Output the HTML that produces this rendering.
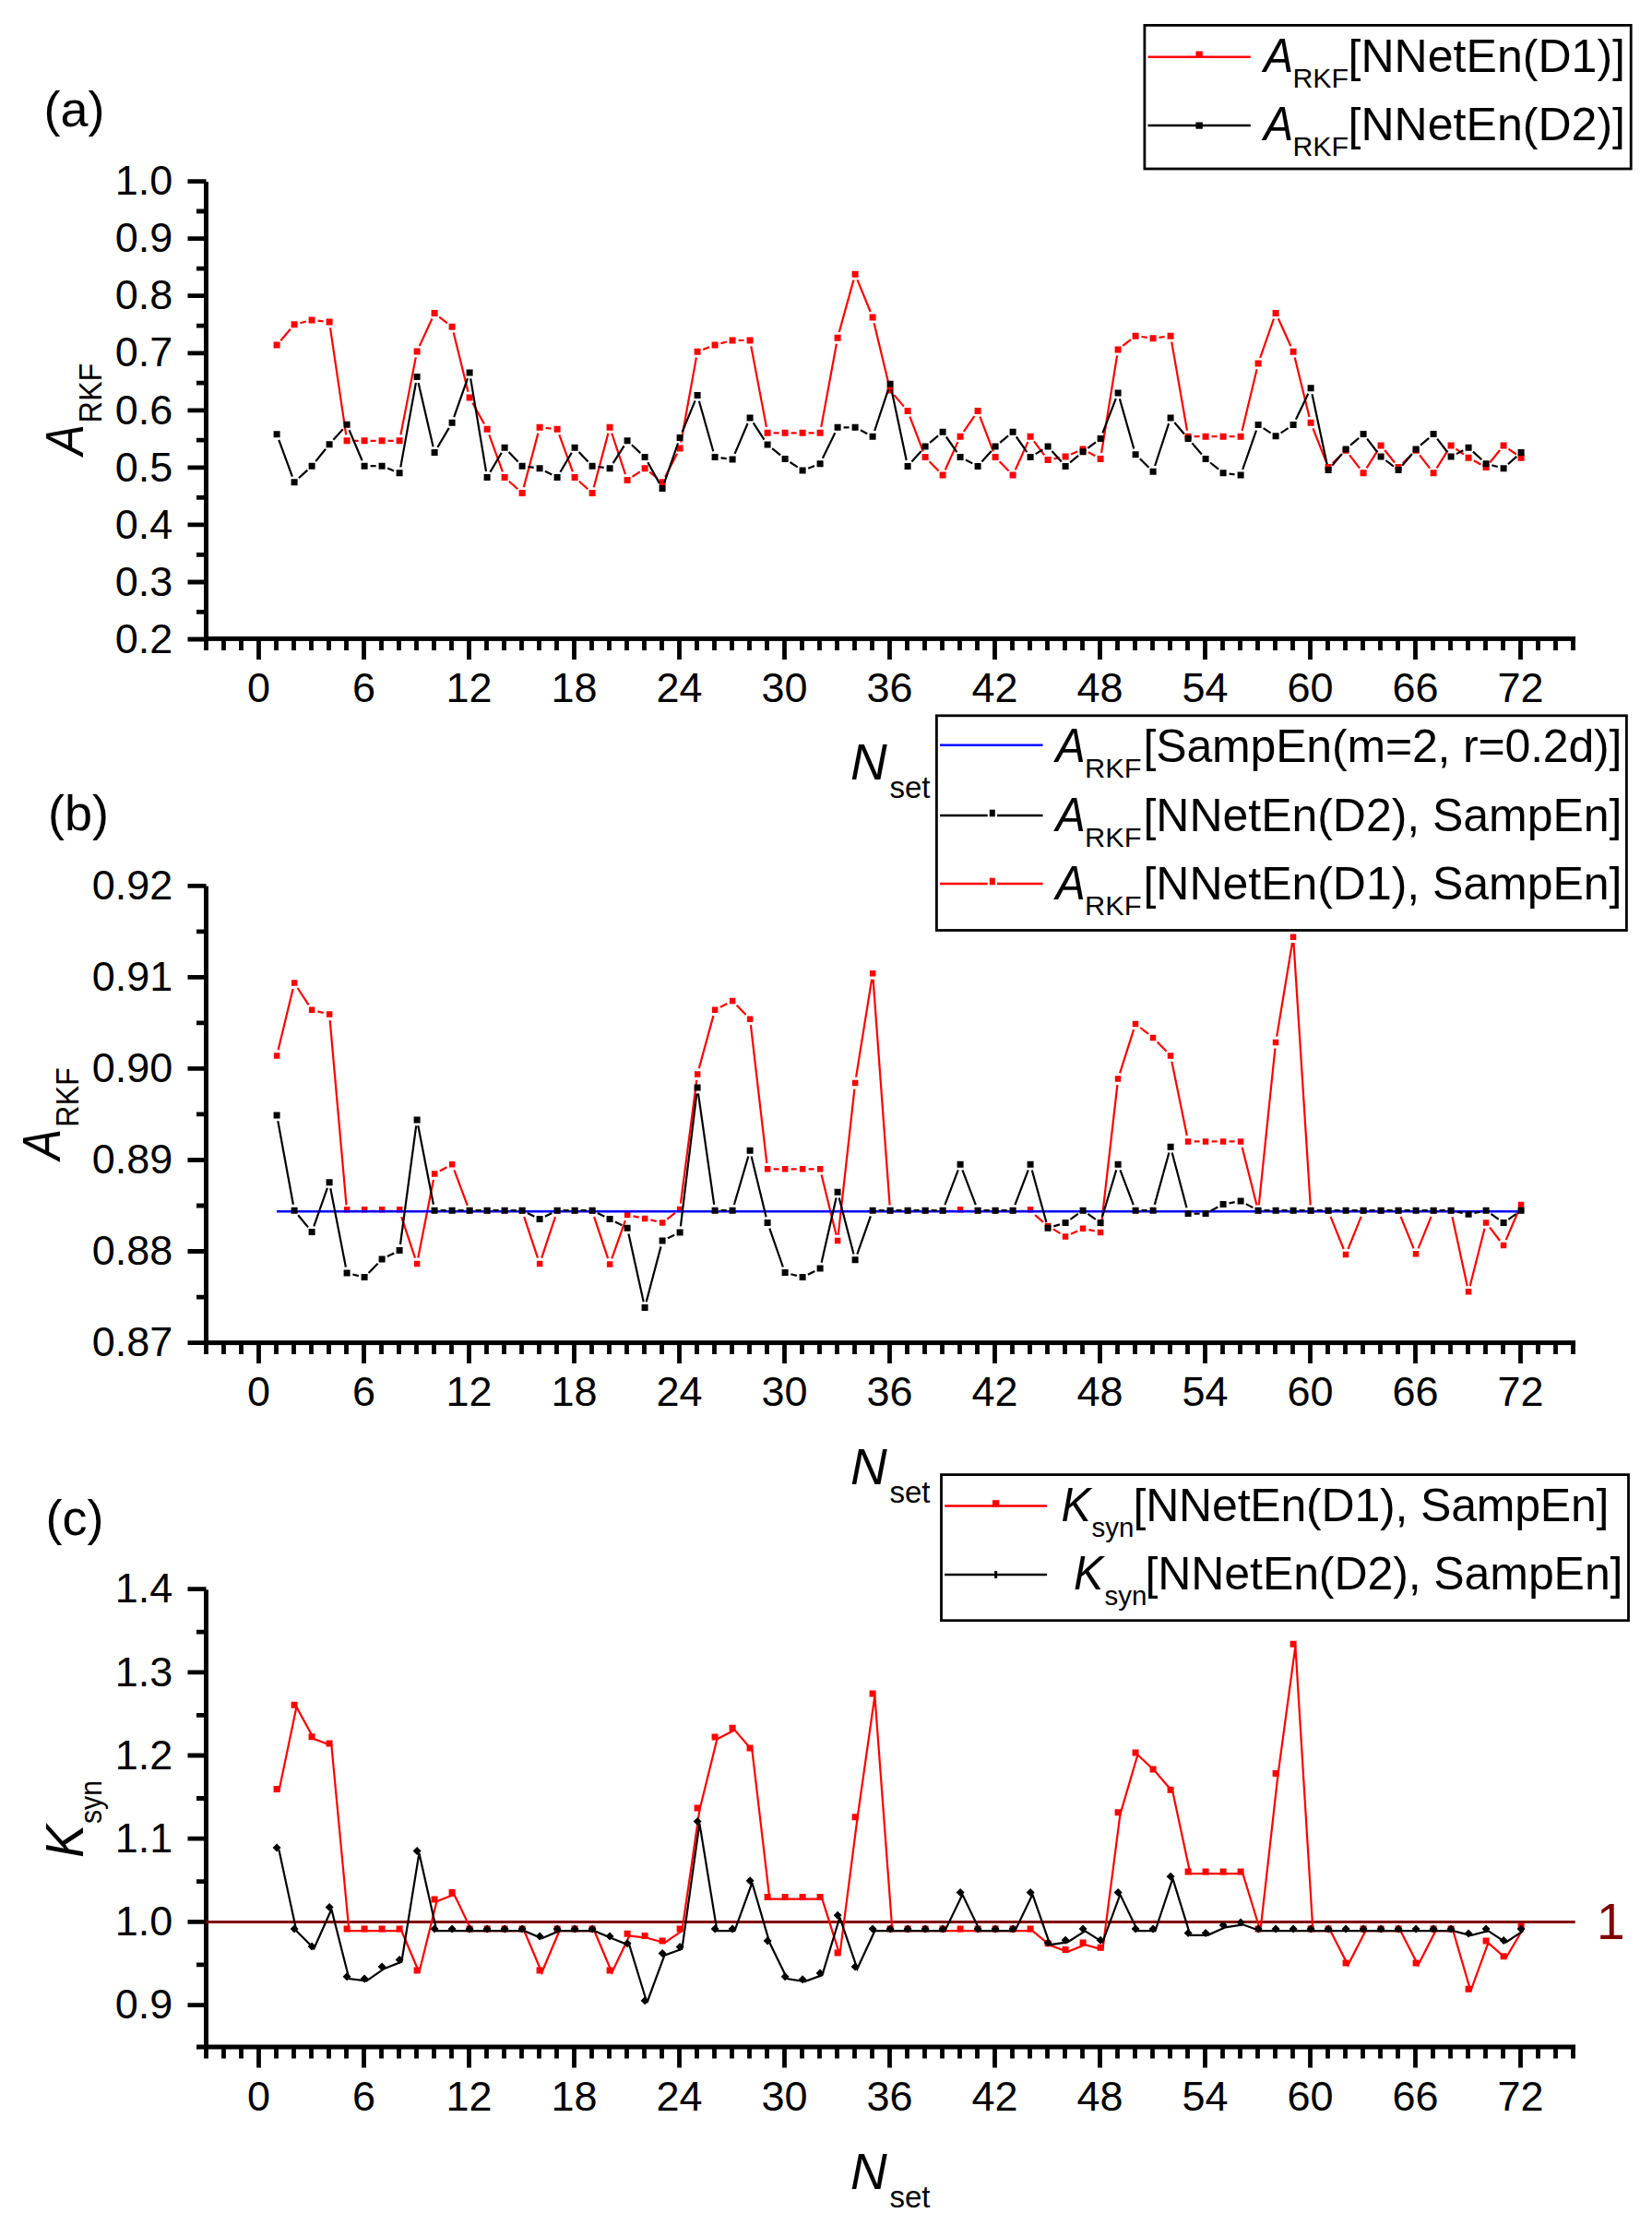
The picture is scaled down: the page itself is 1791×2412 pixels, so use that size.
<!DOCTYPE html>
<html><head><meta charset="utf-8"><title>Figure</title>
<style>html,body{margin:0;padding:0;background:#fff}svg{display:block}</style></head>
<body>
<svg width="1791" height="2412" viewBox="0 0 1791 2412" font-family='"Liberation Sans", sans-serif' fill="#000">
<rect width="1791" height="2412" fill="#fff"/>
<rect x="221.0" y="197.0" width="5" height="497.9" fill="#000"/>
<rect x="221.0" y="689.9" width="1487.0" height="5" fill="#000"/>
<path d="M203.5 196.6H223.5M203.5 258.6H223.5M203.5 320.7H223.5M203.5 382.8H223.5M203.5 444.8H223.5M203.5 506.9H223.5M203.5 568.9H223.5M203.5 631.0H223.5M203.5 693.0H223.5M213.0 229.0H223.5M213.0 291.1H223.5M213.0 353.1H223.5M213.0 415.2H223.5M213.0 477.2H223.5M213.0 539.3H223.5M213.0 601.3H223.5M213.0 663.4H223.5M223.5 692.4V704.9M242.5 692.4V704.9M261.5 692.4V704.9M280.5 692.4V714.9M299.5 692.4V704.9M318.5 692.4V704.9M337.5 692.4V704.9M356.5 692.4V704.9M375.5 692.4V704.9M394.5 692.4V714.9M413.5 692.4V704.9M432.5 692.4V704.9M451.5 692.4V704.9M470.5 692.4V704.9M489.5 692.4V704.9M508.5 692.4V714.9M527.5 692.4V704.9M546.5 692.4V704.9M565.5 692.4V704.9M584.5 692.4V704.9M603.5 692.4V704.9M622.5 692.4V714.9M641.5 692.4V704.9M660.5 692.4V704.9M679.5 692.4V704.9M698.5 692.4V704.9M717.5 692.4V704.9M736.5 692.4V714.9M755.5 692.4V704.9M774.5 692.4V704.9M793.5 692.4V704.9M812.5 692.4V704.9M831.5 692.4V704.9M850.5 692.4V714.9M869.5 692.4V704.9M888.5 692.4V704.9M907.5 692.4V704.9M926.5 692.4V704.9M945.5 692.4V704.9M964.5 692.4V714.9M983.5 692.4V704.9M1002.5 692.4V704.9M1021.5 692.4V704.9M1040.5 692.4V704.9M1059.5 692.4V704.9M1078.5 692.4V714.9M1097.5 692.4V704.9M1116.5 692.4V704.9M1135.5 692.4V704.9M1154.5 692.4V704.9M1173.5 692.4V704.9M1192.5 692.4V714.9M1211.5 692.4V704.9M1230.5 692.4V704.9M1249.5 692.4V704.9M1268.5 692.4V704.9M1287.5 692.4V704.9M1306.5 692.4V714.9M1325.5 692.4V704.9M1344.5 692.4V704.9M1363.5 692.4V704.9M1382.5 692.4V704.9M1401.5 692.4V704.9M1420.5 692.4V714.9M1439.5 692.4V704.9M1458.5 692.4V704.9M1477.5 692.4V704.9M1496.5 692.4V704.9M1515.5 692.4V704.9M1534.5 692.4V714.9M1553.5 692.4V704.9M1572.5 692.4V704.9M1591.5 692.4V704.9M1610.5 692.4V704.9M1629.5 692.4V704.9M1648.5 692.4V714.9M1667.5 692.4V704.9M1686.5 692.4V704.9M1705.5 692.4V704.9" stroke="#000" stroke-width="4.8" fill="none"/>
<text x="187.3" y="211.3" text-anchor="end" font-size="45">1.0</text>
<text x="187.3" y="273.3" text-anchor="end" font-size="45">0.9</text>
<text x="187.3" y="335.4" text-anchor="end" font-size="45">0.8</text>
<text x="187.3" y="397.4" text-anchor="end" font-size="45">0.7</text>
<text x="187.3" y="459.5" text-anchor="end" font-size="45">0.6</text>
<text x="187.3" y="521.6" text-anchor="end" font-size="45">0.5</text>
<text x="187.3" y="583.6" text-anchor="end" font-size="45">0.4</text>
<text x="187.3" y="645.7" text-anchor="end" font-size="45">0.3</text>
<text x="187.3" y="707.7" text-anchor="end" font-size="45">0.2</text>
<text x="280.5" y="761.0" text-anchor="middle" font-size="45">0</text>
<text x="394.5" y="761.0" text-anchor="middle" font-size="45">6</text>
<text x="508.5" y="761.0" text-anchor="middle" font-size="45">12</text>
<text x="622.5" y="761.0" text-anchor="middle" font-size="45">18</text>
<text x="736.5" y="761.0" text-anchor="middle" font-size="45">24</text>
<text x="850.5" y="761.0" text-anchor="middle" font-size="45">30</text>
<text x="964.5" y="761.0" text-anchor="middle" font-size="45">36</text>
<text x="1078.5" y="761.0" text-anchor="middle" font-size="45">42</text>
<text x="1192.5" y="761.0" text-anchor="middle" font-size="45">48</text>
<text x="1306.5" y="761.0" text-anchor="middle" font-size="45">54</text>
<text x="1420.5" y="761.0" text-anchor="middle" font-size="45">60</text>
<text x="1534.5" y="761.0" text-anchor="middle" font-size="45">66</text>
<text x="1648.5" y="761.0" text-anchor="middle" font-size="45">72</text>
<text x="922" y="845.3" font-size="55" font-style="italic">N</text>
<text x="964.5" y="865.3" font-size="33">set</text>
<path d="M304.3 369.2L314.9 356.7M325.4 350.2L331.8 348.5M344.6 347.6L350.6 348.3M358.0 355.4L375.2 471.4M382.6 477.8L388.6 477.8M401.6 477.8L407.6 477.8M420.6 477.8L426.6 477.8M434.4 471.4L450.8 387.4M454.8 375.1L468.4 345.5M476.2 343.6L485.0 350.3M491.7 360.6L507.5 424.8M512.3 436.8L524.9 459.5M530.3 471.3L544.9 511.3M551.9 521.8L561.3 530.2M567.8 528.3L583.4 469.6M591.6 463.9L597.6 464.6M606.3 471.3L620.9 511.3M627.9 521.8L637.3 530.2M643.8 528.3L659.4 469.6M663.2 469.5L678.0 514.2M685.5 516.8L693.7 511.3M704.2 511.7L713.0 518.7M721.1 516.9L734.1 491.7M738.3 479.5L754.9 387.6M762.2 378.9L769.0 376.2M781.4 372.3L787.8 370.6M800.6 369.0L806.6 369.0M814.3 375.4L830.9 462.9M838.6 469.3L844.6 469.3M857.6 469.3L863.6 469.3M876.6 469.3L882.6 469.3M890.3 462.9L906.9 372.7M909.8 360.0L925.4 303.6M929.5 303.3L943.7 338.0M947.6 350.3L963.6 416.8M969.3 428.1L979.9 440.6M986.4 451.7L1000.8 489.4M1007.6 500.2L1017.6 510.4M1024.8 509.2L1038.4 479.1M1044.8 467.8L1056.4 451.0M1062.4 451.7L1076.8 489.4M1083.6 500.2L1093.6 510.4M1100.8 509.2L1114.4 479.1M1121.0 478.4L1132.2 493.3M1142.5 497.4L1148.7 496.2M1161.1 492.6L1168.1 489.5M1179.8 490.1L1187.4 494.3M1194.1 491.0L1211.1 385.3M1217.2 374.9L1226.0 368.2M1237.5 365.0L1243.7 365.9M1256.5 365.9L1262.7 365.0M1270.2 370.6L1287.0 466.8M1294.6 473.2L1300.6 473.2M1313.6 473.2L1319.6 473.2M1332.6 473.2L1338.6 473.2M1346.6 466.9L1362.6 400.2M1366.2 387.8L1381.0 345.5M1385.8 345.3L1399.4 375.3M1403.7 387.5L1419.5 452.0M1423.5 464.3L1437.7 500.6M1444.8 502.1L1454.4 492.7M1463.1 493.3L1474.1 507.7M1481.6 507.3L1493.6 488.4M1501.2 488.0L1512.0 501.5M1520.8 502.1L1530.4 492.7M1539.1 493.3L1550.1 507.7M1557.6 507.3L1569.6 488.4M1578.4 486.6L1586.8 492.5M1597.8 499.3L1605.4 503.5M1615.2 501.5L1626.0 488.0M1635.4 486.6L1643.8 492.5" stroke="#ff0000" stroke-width="2.2" fill="none" stroke-linecap="butt" stroke-linejoin="miter" stroke-miterlimit="3"/>
<path d="M296.6 370.6h7v7h-7zM315.6 348.3h7v7h-7zM334.6 343.4h7v7h-7zM353.6 345.5h7v7h-7zM372.6 474.3h7v7h-7zM391.6 474.3h7v7h-7zM410.6 474.3h7v7h-7zM429.6 474.3h7v7h-7zM448.6 377.5h7v7h-7zM467.6 336.1h7v7h-7zM486.6 350.8h7v7h-7zM505.6 427.6h7v7h-7zM524.6 461.7h7v7h-7zM543.6 513.9h7v7h-7zM562.6 531.1h7v7h-7zM581.6 459.8h7v7h-7zM600.6 461.7h7v7h-7zM619.6 513.9h7v7h-7zM638.6 531.1h7v7h-7zM657.6 459.8h7v7h-7zM676.6 516.9h7v7h-7zM695.6 504.2h7v7h-7zM714.6 519.2h7v7h-7zM733.6 482.4h7v7h-7zM752.6 377.7h7v7h-7zM771.6 370.4h7v7h-7zM790.6 365.5h7v7h-7zM809.6 365.5h7v7h-7zM828.6 465.8h7v7h-7zM847.6 465.8h7v7h-7zM866.6 465.8h7v7h-7zM885.6 465.8h7v7h-7zM904.6 362.8h7v7h-7zM923.6 293.8h7v7h-7zM942.6 340.5h7v7h-7zM961.6 419.6h7v7h-7zM980.6 442.1h7v7h-7zM999.6 492.0h7v7h-7zM1018.6 511.6h7v7h-7zM1037.6 469.7h7v7h-7zM1056.6 442.1h7v7h-7zM1075.6 492.0h7v7h-7zM1094.6 511.6h7v7h-7zM1113.6 469.7h7v7h-7zM1132.6 495.0h7v7h-7zM1151.6 491.6h7v7h-7zM1170.6 483.5h7v7h-7zM1189.6 493.9h7v7h-7zM1208.6 375.4h7v7h-7zM1227.6 360.7h7v7h-7zM1246.6 363.2h7v7h-7zM1265.6 360.7h7v7h-7zM1284.6 469.7h7v7h-7zM1303.6 469.7h7v7h-7zM1322.6 469.7h7v7h-7zM1341.6 469.7h7v7h-7zM1360.6 390.4h7v7h-7zM1379.6 335.9h7v7h-7zM1398.6 377.7h7v7h-7zM1417.6 454.8h7v7h-7zM1436.6 503.1h7v7h-7zM1455.6 484.7h7v7h-7zM1474.6 509.3h7v7h-7zM1493.6 479.4h7v7h-7zM1512.6 503.1h7v7h-7zM1531.6 484.7h7v7h-7zM1550.6 509.3h7v7h-7zM1569.6 479.4h7v7h-7zM1588.6 492.7h7v7h-7zM1607.6 503.1h7v7h-7zM1626.6 479.4h7v7h-7zM1645.6 492.7h7v7h-7z" fill="#ff0000"/>
<path d="M302.3 476.8L316.9 516.6M323.9 518.3L333.3 509.6M342.2 500.1L353.0 486.8M361.4 476.8L371.8 465.2M378.6 466.3L392.6 499.2M401.6 505.2L407.6 505.2M420.1 507.6L427.1 510.4M434.3 506.4L450.9 415.0M453.6 414.9L469.6 484.2M474.4 484.9L486.8 463.9M492.2 452.2L507.0 410.1M510.2 410.4L527.0 511.0M531.4 511.8L543.8 490.8M551.6 489.9L561.6 500.5M572.5 506.0L578.7 506.9M590.9 510.7L598.3 514.4M607.4 511.8L619.8 490.8M627.6 489.9L637.6 500.5M648.5 506.0L654.7 506.9M664.6 502.2L676.6 483.3M684.9 482.2L694.3 491.1M702.3 501.2L714.9 523.9M720.2 523.5L735.0 480.5M739.6 468.4L753.6 434.4M757.9 434.7L773.3 489.2M781.5 496.3L787.7 497.1M796.6 491.9L810.6 459.0M816.7 458.4L828.5 476.6M837.1 486.1L846.1 493.3M856.5 501.0L864.7 506.4M876.2 507.7L883.0 505.0M891.9 496.8L905.3 469.2M914.6 463.3L920.6 463.3M932.9 466.3L940.3 470.2M948.2 467.0L963.0 422.4M966.5 422.6L982.7 499.0M988.4 500.5L998.8 488.9M1008.1 479.8L1017.1 472.4M1025.8 473.5L1037.4 490.2M1046.9 498.5L1054.3 502.4M1064.4 500.5L1074.8 488.9M1084.1 479.8L1093.1 472.4M1101.8 473.5L1113.4 490.2M1122.7 492.1L1130.5 487.4M1140.4 488.9L1150.8 500.5M1160.1 501.3L1169.1 493.9M1179.3 485.9L1187.9 479.4M1195.4 469.4L1209.8 432.2M1213.9 432.4L1229.3 486.5M1235.8 497.3L1245.4 506.7M1252.1 505.0L1267.1 459.2M1273.3 458.0L1283.9 470.5M1292.4 480.4L1302.8 492.5M1312.1 501.5L1321.1 508.7M1332.6 513.6L1338.6 514.3M1347.2 509.0L1362.0 466.7M1369.6 464.1L1377.6 469.3M1388.6 469.3L1396.6 464.1M1404.9 454.7L1418.3 426.7M1422.5 427.2L1438.7 503.2M1444.3 504.6L1454.9 492.0M1464.0 482.7L1473.2 474.8M1482.1 475.6L1493.1 490.0M1502.3 499.0L1510.9 505.7M1520.3 504.6L1530.9 492.0M1540.0 482.7L1549.2 474.8M1558.1 475.6L1569.1 490.0M1578.9 492.1L1586.3 488.2M1596.9 489.6L1606.3 498.3M1617.4 504.4L1623.8 506.0M1634.9 503.3L1644.3 494.9" stroke="#000" stroke-width="2.2" fill="none" stroke-linecap="butt" stroke-linejoin="miter" stroke-miterlimit="3"/>
<path d="M296.6 467.2h7v7h-7zM315.6 519.2h7v7h-7zM334.6 501.7h7v7h-7zM353.6 478.2h7v7h-7zM372.6 456.8h7v7h-7zM391.6 501.7h7v7h-7zM410.6 501.7h7v7h-7zM429.6 509.3h7v7h-7zM448.6 405.1h7v7h-7zM467.6 487.0h7v7h-7zM486.6 454.8h7v7h-7zM505.6 400.5h7v7h-7zM524.6 513.9h7v7h-7zM543.6 481.7h7v7h-7zM562.6 501.7h7v7h-7zM581.6 504.2h7v7h-7zM600.6 513.9h7v7h-7zM619.6 481.7h7v7h-7zM638.6 501.7h7v7h-7zM657.6 504.2h7v7h-7zM676.6 474.3h7v7h-7zM695.6 492.0h7v7h-7zM714.6 526.1h7v7h-7zM733.6 470.9h7v7h-7zM752.6 424.9h7v7h-7zM771.6 492.0h7v7h-7zM790.6 494.4h7v7h-7zM809.6 449.5h7v7h-7zM828.6 478.5h7v7h-7zM847.6 493.9h7v7h-7zM866.6 506.5h7v7h-7zM885.6 499.2h7v7h-7zM904.6 459.8h7v7h-7zM923.6 459.8h7v7h-7zM942.6 469.7h7v7h-7zM961.6 412.7h7v7h-7zM980.6 501.9h7v7h-7zM999.6 480.5h7v7h-7zM1018.6 464.7h7v7h-7zM1037.6 492.0h7v7h-7zM1056.6 501.9h7v7h-7zM1075.6 480.5h7v7h-7zM1094.6 464.7h7v7h-7zM1113.6 492.0h7v7h-7zM1132.6 480.5h7v7h-7zM1151.6 501.9h7v7h-7zM1170.6 486.3h7v7h-7zM1189.6 472.0h7v7h-7zM1208.6 422.6h7v7h-7zM1227.6 489.3h7v7h-7zM1246.6 507.7h7v7h-7zM1265.6 449.5h7v7h-7zM1284.6 472.0h7v7h-7zM1303.6 493.9h7v7h-7zM1322.6 509.3h7v7h-7zM1341.6 511.6h7v7h-7zM1360.6 457.1h7v7h-7zM1379.6 469.3h7v7h-7zM1398.6 457.1h7v7h-7zM1417.6 417.3h7v7h-7zM1436.6 506.1h7v7h-7zM1455.6 483.5h7v7h-7zM1474.6 467.0h7v7h-7zM1493.6 491.6h7v7h-7zM1512.6 506.1h7v7h-7zM1531.6 483.5h7v7h-7zM1550.6 467.0h7v7h-7zM1569.6 491.6h7v7h-7zM1588.6 481.7h7v7h-7zM1607.6 499.2h7v7h-7zM1626.6 504.2h7v7h-7zM1645.6 487.0h7v7h-7z" fill="#000"/>
<text x="47.5" y="137" font-size="54">(a)</text>
<text transform="translate(90,493.5) rotate(-90) scale(0.88,1)" font-size="57" font-style="italic">A</text>
<text transform="translate(109.6,458.5) rotate(-90) scale(0.9,1)" font-size="36">RKF</text>
<rect x="221.0" y="960.6" width="5" height="497.5" fill="#000"/>
<rect x="221.0" y="1453.1" width="1487.0" height="5" fill="#000"/>
<path d="M203.5 960.3H223.5M203.5 1059.4H223.5M203.5 1158.4H223.5M203.5 1257.5H223.5M203.5 1356.5H223.5M203.5 1455.6H223.5M213.0 1009.8H223.5M213.0 1108.9H223.5M213.0 1207.9H223.5M213.0 1307.0H223.5M213.0 1406.1H223.5M223.5 1455.6V1468.1M242.5 1455.6V1468.1M261.5 1455.6V1468.1M280.5 1455.6V1478.1M299.5 1455.6V1468.1M318.5 1455.6V1468.1M337.5 1455.6V1468.1M356.5 1455.6V1468.1M375.5 1455.6V1468.1M394.5 1455.6V1478.1M413.5 1455.6V1468.1M432.5 1455.6V1468.1M451.5 1455.6V1468.1M470.5 1455.6V1468.1M489.5 1455.6V1468.1M508.5 1455.6V1478.1M527.5 1455.6V1468.1M546.5 1455.6V1468.1M565.5 1455.6V1468.1M584.5 1455.6V1468.1M603.5 1455.6V1468.1M622.5 1455.6V1478.1M641.5 1455.6V1468.1M660.5 1455.6V1468.1M679.5 1455.6V1468.1M698.5 1455.6V1468.1M717.5 1455.6V1468.1M736.5 1455.6V1478.1M755.5 1455.6V1468.1M774.5 1455.6V1468.1M793.5 1455.6V1468.1M812.5 1455.6V1468.1M831.5 1455.6V1468.1M850.5 1455.6V1478.1M869.5 1455.6V1468.1M888.5 1455.6V1468.1M907.5 1455.6V1468.1M926.5 1455.6V1468.1M945.5 1455.6V1468.1M964.5 1455.6V1478.1M983.5 1455.6V1468.1M1002.5 1455.6V1468.1M1021.5 1455.6V1468.1M1040.5 1455.6V1468.1M1059.5 1455.6V1468.1M1078.5 1455.6V1478.1M1097.5 1455.6V1468.1M1116.5 1455.6V1468.1M1135.5 1455.6V1468.1M1154.5 1455.6V1468.1M1173.5 1455.6V1468.1M1192.5 1455.6V1478.1M1211.5 1455.6V1468.1M1230.5 1455.6V1468.1M1249.5 1455.6V1468.1M1268.5 1455.6V1468.1M1287.5 1455.6V1468.1M1306.5 1455.6V1478.1M1325.5 1455.6V1468.1M1344.5 1455.6V1468.1M1363.5 1455.6V1468.1M1382.5 1455.6V1468.1M1401.5 1455.6V1468.1M1420.5 1455.6V1478.1M1439.5 1455.6V1468.1M1458.5 1455.6V1468.1M1477.5 1455.6V1468.1M1496.5 1455.6V1468.1M1515.5 1455.6V1468.1M1534.5 1455.6V1478.1M1553.5 1455.6V1468.1M1572.5 1455.6V1468.1M1591.5 1455.6V1468.1M1610.5 1455.6V1468.1M1629.5 1455.6V1468.1M1648.5 1455.6V1478.1M1667.5 1455.6V1468.1M1686.5 1455.6V1468.1M1705.5 1455.6V1468.1" stroke="#000" stroke-width="4.8" fill="none"/>
<text x="187.3" y="975.0" text-anchor="end" font-size="45">0.92</text>
<text x="187.3" y="1074.1" text-anchor="end" font-size="45">0.91</text>
<text x="187.3" y="1173.1" text-anchor="end" font-size="45">0.90</text>
<text x="187.3" y="1272.2" text-anchor="end" font-size="45">0.89</text>
<text x="187.3" y="1371.2" text-anchor="end" font-size="45">0.88</text>
<text x="187.3" y="1470.3" text-anchor="end" font-size="45">0.87</text>
<text x="280.5" y="1524.2" text-anchor="middle" font-size="45">0</text>
<text x="394.5" y="1524.2" text-anchor="middle" font-size="45">6</text>
<text x="508.5" y="1524.2" text-anchor="middle" font-size="45">12</text>
<text x="622.5" y="1524.2" text-anchor="middle" font-size="45">18</text>
<text x="736.5" y="1524.2" text-anchor="middle" font-size="45">24</text>
<text x="850.5" y="1524.2" text-anchor="middle" font-size="45">30</text>
<text x="964.5" y="1524.2" text-anchor="middle" font-size="45">36</text>
<text x="1078.5" y="1524.2" text-anchor="middle" font-size="45">42</text>
<text x="1192.5" y="1524.2" text-anchor="middle" font-size="45">48</text>
<text x="1306.5" y="1524.2" text-anchor="middle" font-size="45">54</text>
<text x="1420.5" y="1524.2" text-anchor="middle" font-size="45">60</text>
<text x="1534.5" y="1524.2" text-anchor="middle" font-size="45">66</text>
<text x="1648.5" y="1524.2" text-anchor="middle" font-size="45">72</text>
<text x="922" y="1608.5" font-size="55" font-style="italic">N</text>
<text x="964.5" y="1628.5" font-size="33">set</text>
<path d="M301.6 1138.2L317.6 1071.9M322.6 1071.0L334.6 1089.4M344.4 1096.4L350.8 1098.0M357.7 1106.1L375.5 1306.4M382.6 1312.9L388.6 1312.9M401.6 1312.9L407.6 1312.9M420.6 1312.9L426.6 1312.9M435.2 1319.1L450.0 1363.7M453.3 1363.5L469.9 1279.0M476.8 1269.5L484.4 1265.3M492.4 1268.3L506.8 1306.8M515.6 1312.9L521.6 1312.9M534.6 1312.9L540.6 1312.9M553.6 1312.9L559.6 1312.9M568.2 1319.1L583.0 1363.7M587.2 1363.7L602.0 1319.1M610.6 1312.9L616.6 1312.9M629.6 1312.9L635.6 1312.9M644.1 1319.1L659.1 1364.2M663.3 1364.3L677.9 1323.1M686.5 1318.3L692.7 1319.6M705.4 1322.4L711.8 1324.0M723.3 1321.6L731.9 1314.9M737.9 1304.6L755.3 1170.9M757.8 1158.2L773.4 1101.1M780.9 1091.8L788.3 1088.1M798.6 1089.8L808.6 1100.0M813.9 1111.2L831.3 1260.8M838.6 1267.3L844.6 1267.3M857.6 1267.3L863.6 1267.3M876.6 1267.3L882.6 1267.3M890.6 1273.6L906.6 1338.8M908.8 1338.6L926.4 1180.6M928.1 1167.7L945.1 1061.6M946.6 1061.7L964.6 1306.4M971.6 1312.9L977.6 1312.9M990.6 1312.9L996.6 1312.9M1009.6 1312.9L1015.6 1312.9M1028.6 1312.9L1034.6 1312.9M1047.6 1312.9L1053.6 1312.9M1066.6 1312.9L1072.6 1312.9M1085.6 1312.9L1091.6 1312.9M1104.6 1312.9L1110.6 1312.9M1122.1 1317.1L1131.1 1324.8M1141.7 1332.4L1149.5 1337.1M1161.0 1337.8L1168.2 1334.4M1180.4 1333.1L1186.8 1334.5M1193.8 1329.4L1211.4 1176.0M1214.1 1163.3L1229.1 1116.2M1236.2 1114.0L1245.0 1120.9M1254.6 1129.6L1264.6 1139.8M1270.4 1150.9L1286.8 1231.0M1294.6 1237.4L1300.6 1237.4M1313.6 1237.4L1319.6 1237.4M1332.6 1237.4L1338.6 1237.4M1346.7 1243.7L1362.5 1306.6M1364.8 1306.4L1382.4 1136.5M1384.2 1123.6L1401.0 1022.0M1402.5 1022.1L1420.7 1306.4M1427.6 1312.9L1433.6 1312.9M1442.5 1318.9L1456.7 1354.0M1461.5 1354.0L1475.7 1318.9M1484.6 1312.9L1490.6 1312.9M1503.6 1312.9L1509.6 1312.9M1518.6 1318.9L1532.6 1353.3M1537.6 1353.3L1551.6 1318.9M1560.6 1312.9L1566.6 1312.9M1574.5 1319.3L1590.7 1393.9M1593.7 1394.0L1609.5 1331.8M1615.1 1330.6L1626.1 1345.0M1632.7 1344.1L1646.5 1312.0" stroke="#ff0000" stroke-width="2.2" fill="none" stroke-linecap="butt" stroke-linejoin="miter" stroke-miterlimit="3"/>
<path d="M296.9 1141.2h6.5v6.5h-6.5zM315.9 1062.3h6.5v6.5h-6.5zM334.9 1091.5h6.5v6.5h-6.5zM353.9 1096.3h6.5v6.5h-6.5zM372.9 1308.0h6.5v6.5h-6.5zM391.9 1308.0h6.5v6.5h-6.5zM410.9 1308.0h6.5v6.5h-6.5zM429.9 1308.0h6.5v6.5h-6.5zM448.9 1366.7h6.5v6.5h-6.5zM467.9 1269.3h6.5v6.5h-6.5zM486.9 1259.0h6.5v6.5h-6.5zM505.9 1309.0h6.5v6.5h-6.5zM524.9 1309.0h6.5v6.5h-6.5zM543.9 1309.0h6.5v6.5h-6.5zM562.9 1309.0h6.5v6.5h-6.5zM581.9 1366.7h6.5v6.5h-6.5zM600.9 1309.0h6.5v6.5h-6.5zM619.9 1309.0h6.5v6.5h-6.5zM638.9 1309.0h6.5v6.5h-6.5zM657.9 1367.2h6.5v6.5h-6.5zM676.9 1313.8h6.5v6.5h-6.5zM695.9 1317.7h6.5v6.5h-6.5zM714.9 1322.2h6.5v6.5h-6.5zM733.9 1307.8h6.5v6.5h-6.5zM752.9 1161.2h6.5v6.5h-6.5zM771.9 1091.5h6.5v6.5h-6.5zM790.9 1081.8h6.5v6.5h-6.5zM809.9 1101.5h6.5v6.5h-6.5zM828.9 1264.0h6.5v6.5h-6.5zM847.9 1264.0h6.5v6.5h-6.5zM866.9 1264.0h6.5v6.5h-6.5zM885.9 1264.0h6.5v6.5h-6.5zM904.9 1341.8h6.5v6.5h-6.5zM923.9 1170.8h6.5v6.5h-6.5zM942.9 1052.0h6.5v6.5h-6.5zM961.9 1309.0h6.5v6.5h-6.5zM980.9 1309.0h6.5v6.5h-6.5zM999.9 1309.0h6.5v6.5h-6.5zM1018.9 1309.0h6.5v6.5h-6.5zM1037.8 1308.0h6.5v6.5h-6.5zM1056.8 1309.0h6.5v6.5h-6.5zM1075.8 1309.0h6.5v6.5h-6.5zM1094.8 1309.0h6.5v6.5h-6.5zM1113.8 1308.0h6.5v6.5h-6.5zM1132.8 1325.8h6.5v6.5h-6.5zM1151.8 1337.2h6.5v6.5h-6.5zM1170.8 1328.5h6.5v6.5h-6.5zM1189.8 1332.7h6.5v6.5h-6.5zM1208.8 1166.2h6.5v6.5h-6.5zM1227.8 1106.8h6.5v6.5h-6.5zM1246.8 1121.7h6.5v6.5h-6.5zM1265.8 1141.2h6.5v6.5h-6.5zM1284.8 1234.2h6.5v6.5h-6.5zM1303.8 1234.2h6.5v6.5h-6.5zM1322.8 1234.2h6.5v6.5h-6.5zM1341.8 1234.2h6.5v6.5h-6.5zM1360.8 1309.0h6.5v6.5h-6.5zM1379.8 1126.8h6.5v6.5h-6.5zM1398.8 1012.4h6.5v6.5h-6.5zM1417.8 1309.0h6.5v6.5h-6.5zM1436.8 1309.0h6.5v6.5h-6.5zM1455.8 1356.8h6.5v6.5h-6.5zM1474.8 1309.0h6.5v6.5h-6.5zM1493.8 1309.0h6.5v6.5h-6.5zM1512.8 1309.0h6.5v6.5h-6.5zM1531.8 1356.0h6.5v6.5h-6.5zM1550.8 1309.0h6.5v6.5h-6.5zM1569.8 1309.0h6.5v6.5h-6.5zM1588.8 1397.0h6.5v6.5h-6.5zM1607.8 1322.2h6.5v6.5h-6.5zM1626.8 1346.8h6.5v6.5h-6.5zM1645.8 1302.8h6.5v6.5h-6.5z" fill="#ff0000"/>
<path d="M300.1 1313.3H1649.1" stroke="#0000ff" stroke-width="2.6"/>
<path d="M301.3 1215.3L317.9 1305.8M323.2 1317.2L334.0 1330.4M340.3 1329.3L354.9 1287.9M358.3 1288.2L374.9 1373.6M382.4 1381.5L388.8 1383.1M399.6 1379.9L409.6 1369.8M419.9 1362.1L427.3 1358.4M434.0 1349.0L451.2 1220.3M453.3 1220.3L469.9 1305.8M477.6 1312.2L483.6 1312.2M496.6 1312.2L502.6 1312.2M515.6 1312.2L521.6 1312.2M534.6 1312.2L540.6 1312.2M553.6 1312.2L559.6 1312.2M571.9 1315.1L579.3 1318.7M590.9 1318.7L598.3 1315.1M610.6 1312.2L616.6 1312.2M629.6 1312.2L635.6 1312.2M647.9 1315.1L655.3 1318.7M666.9 1324.6L674.3 1328.3M681.5 1337.6L697.7 1411.2M700.7 1411.2L716.5 1351.4M724.0 1342.3L731.2 1338.7M737.9 1329.4L755.3 1185.5M757.0 1185.4L774.2 1305.8M781.6 1312.2L787.6 1312.2M795.9 1306.0L811.3 1253.5M814.6 1253.6L830.6 1319.2M834.3 1331.6L848.9 1373.5M857.4 1381.3L863.8 1382.9M875.9 1381.7L883.3 1377.9M890.6 1368.7L906.6 1298.5M909.7 1298.5L925.5 1359.5M929.3 1359.7L943.9 1318.3M952.6 1312.2L958.6 1312.2M971.6 1312.2L977.6 1312.2M990.6 1312.2L996.6 1312.2M1009.6 1312.2L1015.6 1312.2M1024.4 1306.1L1038.8 1268.3M1043.4 1268.3L1057.8 1306.1M1066.6 1312.2L1072.6 1312.2M1085.6 1312.2L1091.6 1312.2M1100.4 1306.1L1114.8 1268.3M1118.8 1268.5L1134.4 1325.0M1142.3 1329.4L1148.9 1327.4M1160.4 1321.8L1168.8 1315.9M1179.4 1315.9L1187.8 1321.8M1195.0 1319.3L1210.2 1268.4M1214.4 1268.3L1228.8 1306.1M1237.6 1312.2L1243.6 1312.2M1251.8 1305.9L1267.4 1249.5M1270.7 1249.5L1286.5 1309.3M1294.6 1315.6L1300.6 1315.6M1312.8 1312.5L1320.4 1308.6M1332.5 1304.3L1338.7 1303.2M1350.8 1305.1L1358.4 1309.1M1370.6 1312.2L1376.6 1312.2M1389.6 1312.2L1395.6 1312.2M1408.6 1312.2L1414.6 1312.2M1427.6 1312.2L1433.6 1312.2M1446.6 1312.2L1452.6 1312.2M1465.6 1312.2L1471.6 1312.2M1484.6 1312.2L1490.6 1312.2M1503.6 1312.2L1509.6 1312.2M1522.6 1312.2L1528.6 1312.2M1541.6 1312.2L1547.6 1312.2M1560.6 1312.2L1566.6 1312.2M1579.5 1313.6L1585.7 1314.9M1598.5 1314.9L1604.7 1313.6M1616.4 1315.9L1624.8 1321.8M1635.4 1321.8L1643.8 1315.9" stroke="#000" stroke-width="2.2" fill="none" stroke-linecap="butt" stroke-linejoin="miter" stroke-miterlimit="3"/>
<path d="M296.6 1205.4h7v7h-7zM315.6 1308.7h7v7h-7zM334.6 1331.9h7v7h-7zM353.6 1278.3h7v7h-7zM372.6 1376.5h7v7h-7zM391.6 1381.1h7v7h-7zM410.6 1361.6h7v7h-7zM429.6 1351.9h7v7h-7zM448.6 1210.4h7v7h-7zM467.6 1308.7h7v7h-7zM486.6 1308.7h7v7h-7zM505.6 1308.7h7v7h-7zM524.6 1308.7h7v7h-7zM543.6 1308.7h7v7h-7zM562.6 1308.7h7v7h-7zM581.6 1318.1h7v7h-7zM600.6 1308.7h7v7h-7zM619.6 1308.7h7v7h-7zM638.6 1308.7h7v7h-7zM657.6 1318.1h7v7h-7zM676.6 1327.8h7v7h-7zM695.6 1414.0h7v7h-7zM714.6 1341.6h7v7h-7zM733.6 1332.4h7v7h-7zM752.6 1175.5h7v7h-7zM771.6 1308.7h7v7h-7zM790.6 1308.7h7v7h-7zM809.6 1243.8h7v7h-7zM828.6 1322.0h7v7h-7zM847.6 1376.1h7v7h-7zM866.6 1381.1h7v7h-7zM885.6 1371.5h7v7h-7zM904.6 1288.7h7v7h-7zM923.6 1362.3h7v7h-7zM942.6 1308.7h7v7h-7zM961.6 1308.7h7v7h-7zM980.6 1308.7h7v7h-7zM999.6 1308.7h7v7h-7zM1018.6 1308.7h7v7h-7zM1037.6 1258.7h7v7h-7zM1056.6 1308.7h7v7h-7zM1075.6 1308.7h7v7h-7zM1094.6 1308.7h7v7h-7zM1113.6 1258.7h7v7h-7zM1132.6 1327.8h7v7h-7zM1151.6 1322.0h7v7h-7zM1170.6 1308.7h7v7h-7zM1189.6 1322.0h7v7h-7zM1208.6 1258.7h7v7h-7zM1227.6 1308.7h7v7h-7zM1246.6 1308.7h7v7h-7zM1265.6 1239.7h7v7h-7zM1284.6 1312.1h7v7h-7zM1303.6 1312.1h7v7h-7zM1322.6 1302.0h7v7h-7zM1341.6 1298.5h7v7h-7zM1360.6 1308.7h7v7h-7zM1379.6 1308.7h7v7h-7zM1398.6 1308.7h7v7h-7zM1417.6 1308.7h7v7h-7zM1436.6 1308.7h7v7h-7zM1455.6 1308.7h7v7h-7zM1474.6 1308.7h7v7h-7zM1493.6 1308.7h7v7h-7zM1512.6 1308.7h7v7h-7zM1531.6 1308.7h7v7h-7zM1550.6 1308.7h7v7h-7zM1569.6 1308.7h7v7h-7zM1588.6 1312.8h7v7h-7zM1607.6 1308.7h7v7h-7zM1626.6 1322.0h7v7h-7zM1645.6 1308.7h7v7h-7z" fill="#000"/>
<text x="52" y="900" font-size="54">(b)</text>
<text transform="translate(64.8,1257.3) rotate(-90) scale(0.88,1)" font-size="57" font-style="italic">A</text>
<text transform="translate(84.8,1222) rotate(-90) scale(0.9,1)" font-size="36">RKF</text>
<rect x="221.0" y="1723.4" width="5" height="498.1" fill="#000"/>
<rect x="221.0" y="2216.5" width="1487.0" height="5" fill="#000"/>
<path d="M203.5 1722.6H223.5M203.5 1812.8H223.5M203.5 1903.0H223.5M203.5 1993.2H223.5M203.5 2083.4H223.5M203.5 2173.6H223.5M213.0 1769.1H223.5M213.0 1859.3H223.5M213.0 1949.5H223.5M213.0 2039.7H223.5M213.0 2129.9H223.5M213.0 2219.0H223.5M223.5 2219.0V2231.5M242.5 2219.0V2231.5M261.5 2219.0V2231.5M280.5 2219.0V2241.5M299.5 2219.0V2231.5M318.5 2219.0V2231.5M337.5 2219.0V2231.5M356.5 2219.0V2231.5M375.5 2219.0V2231.5M394.5 2219.0V2241.5M413.5 2219.0V2231.5M432.5 2219.0V2231.5M451.5 2219.0V2231.5M470.5 2219.0V2231.5M489.5 2219.0V2231.5M508.5 2219.0V2241.5M527.5 2219.0V2231.5M546.5 2219.0V2231.5M565.5 2219.0V2231.5M584.5 2219.0V2231.5M603.5 2219.0V2231.5M622.5 2219.0V2241.5M641.5 2219.0V2231.5M660.5 2219.0V2231.5M679.5 2219.0V2231.5M698.5 2219.0V2231.5M717.5 2219.0V2231.5M736.5 2219.0V2241.5M755.5 2219.0V2231.5M774.5 2219.0V2231.5M793.5 2219.0V2231.5M812.5 2219.0V2231.5M831.5 2219.0V2231.5M850.5 2219.0V2241.5M869.5 2219.0V2231.5M888.5 2219.0V2231.5M907.5 2219.0V2231.5M926.5 2219.0V2231.5M945.5 2219.0V2231.5M964.5 2219.0V2241.5M983.5 2219.0V2231.5M1002.5 2219.0V2231.5M1021.5 2219.0V2231.5M1040.5 2219.0V2231.5M1059.5 2219.0V2231.5M1078.5 2219.0V2241.5M1097.5 2219.0V2231.5M1116.5 2219.0V2231.5M1135.5 2219.0V2231.5M1154.5 2219.0V2231.5M1173.5 2219.0V2231.5M1192.5 2219.0V2241.5M1211.5 2219.0V2231.5M1230.5 2219.0V2231.5M1249.5 2219.0V2231.5M1268.5 2219.0V2231.5M1287.5 2219.0V2231.5M1306.5 2219.0V2241.5M1325.5 2219.0V2231.5M1344.5 2219.0V2231.5M1363.5 2219.0V2231.5M1382.5 2219.0V2231.5M1401.5 2219.0V2231.5M1420.5 2219.0V2241.5M1439.5 2219.0V2231.5M1458.5 2219.0V2231.5M1477.5 2219.0V2231.5M1496.5 2219.0V2231.5M1515.5 2219.0V2231.5M1534.5 2219.0V2241.5M1553.5 2219.0V2231.5M1572.5 2219.0V2231.5M1591.5 2219.0V2231.5M1610.5 2219.0V2231.5M1629.5 2219.0V2231.5M1648.5 2219.0V2241.5M1667.5 2219.0V2231.5M1686.5 2219.0V2231.5M1705.5 2219.0V2231.5" stroke="#000" stroke-width="4.8" fill="none"/>
<text x="187.3" y="1737.3" text-anchor="end" font-size="45">1.4</text>
<text x="187.3" y="1827.5" text-anchor="end" font-size="45">1.3</text>
<text x="187.3" y="1917.7" text-anchor="end" font-size="45">1.2</text>
<text x="187.3" y="2007.9" text-anchor="end" font-size="45">1.1</text>
<text x="187.3" y="2098.1" text-anchor="end" font-size="45">1.0</text>
<text x="187.3" y="2188.3" text-anchor="end" font-size="45">0.9</text>
<text x="280.5" y="2288.4" text-anchor="middle" font-size="45">0</text>
<text x="394.5" y="2288.4" text-anchor="middle" font-size="45">6</text>
<text x="508.5" y="2288.4" text-anchor="middle" font-size="45">12</text>
<text x="622.5" y="2288.4" text-anchor="middle" font-size="45">18</text>
<text x="736.5" y="2288.4" text-anchor="middle" font-size="45">24</text>
<text x="850.5" y="2288.4" text-anchor="middle" font-size="45">30</text>
<text x="964.5" y="2288.4" text-anchor="middle" font-size="45">36</text>
<text x="1078.5" y="2288.4" text-anchor="middle" font-size="45">42</text>
<text x="1192.5" y="2288.4" text-anchor="middle" font-size="45">48</text>
<text x="1306.5" y="2288.4" text-anchor="middle" font-size="45">54</text>
<text x="1420.5" y="2288.4" text-anchor="middle" font-size="45">60</text>
<text x="1534.5" y="2288.4" text-anchor="middle" font-size="45">66</text>
<text x="1648.5" y="2288.4" text-anchor="middle" font-size="45">72</text>
<text x="922" y="2372.7" font-size="55" font-style="italic">N</text>
<text x="964.5" y="2392.7" font-size="33">set</text>
<path d="M223.5 2083.5H1707.7" stroke="#800000" stroke-width="3"/>
<path d="M302.4 1941.6L321.4 1850.5L340.4 1885.0L359.4 1892.2L378.4 2093.2L397.4 2093.2L416.4 2093.2L435.4 2093.2L454.4 2138.3L473.4 2061.2L492.4 2053.7L511.4 2093.2L530.4 2093.2L549.4 2093.2L568.4 2093.2L587.4 2138.3L606.4 2093.2L625.4 2093.2L644.4 2093.2L663.4 2138.3L682.4 2098.5L701.4 2100.8L720.4 2106.1L739.4 2093.2L758.4 1962.1L777.4 1885.3L796.4 1875.4L815.4 1897.2L834.4 2058.7L853.4 2058.7L872.4 2058.7L891.4 2058.7L910.4 2119.2L929.4 1972.0L948.4 1838.1L967.4 2093.2L986.4 2093.2L1005.4 2093.2L1024.4 2093.2L1043.4 2093.2L1062.4 2093.2L1081.4 2093.2L1100.4 2093.2L1119.4 2093.2L1138.4 2108.9L1157.4 2115.8L1176.4 2108.2L1195.4 2113.5L1214.4 1966.9L1233.4 1902.3L1252.4 1920.2L1271.4 1942.5L1290.4 2031.1L1309.4 2031.1L1328.4 2031.1L1347.4 2031.1L1366.4 2093.2L1385.4 1924.7L1404.4 1784.4L1423.4 2093.2L1442.4 2093.2L1461.4 2130.3L1480.4 2093.2L1499.4 2093.2L1518.4 2093.2L1537.4 2130.3L1556.4 2093.2L1575.4 2093.2L1594.4 2158.4L1613.4 2106.2L1632.4 2122.9L1651.4 2090.7" stroke="#ff0000" stroke-width="2.2" fill="none" stroke-linecap="butt" stroke-linejoin="miter" stroke-miterlimit="3"/>
<path d="M296.6 1935.9h7v7h-7zM315.6 1844.8h7v7h-7zM334.6 1879.3h7v7h-7zM353.6 1886.5h7v7h-7zM372.6 2087.5h7v7h-7zM391.6 2087.5h7v7h-7zM410.6 2087.5h7v7h-7zM429.6 2087.5h7v7h-7zM448.6 2132.6h7v7h-7zM467.6 2055.5h7v7h-7zM486.6 2048.0h7v7h-7zM505.6 2087.5h7v7h-7zM524.6 2087.5h7v7h-7zM543.6 2087.5h7v7h-7zM562.6 2087.5h7v7h-7zM581.6 2132.6h7v7h-7zM600.6 2087.5h7v7h-7zM619.6 2087.5h7v7h-7zM638.6 2087.5h7v7h-7zM657.6 2132.6h7v7h-7zM676.6 2092.8h7v7h-7zM695.6 2095.1h7v7h-7zM714.6 2100.4h7v7h-7zM733.6 2087.5h7v7h-7zM752.6 1956.4h7v7h-7zM771.6 1879.6h7v7h-7zM790.6 1869.7h7v7h-7zM809.6 1891.5h7v7h-7zM828.6 2053.0h7v7h-7zM847.6 2053.0h7v7h-7zM866.6 2053.0h7v7h-7zM885.6 2053.0h7v7h-7zM904.6 2113.5h7v7h-7zM923.6 1966.3h7v7h-7zM942.6 1832.4h7v7h-7zM961.6 2087.5h7v7h-7zM980.6 2087.5h7v7h-7zM999.6 2087.5h7v7h-7zM1018.6 2087.5h7v7h-7zM1037.6 2087.5h7v7h-7zM1056.6 2087.5h7v7h-7zM1075.6 2087.5h7v7h-7zM1094.6 2087.5h7v7h-7zM1113.6 2087.5h7v7h-7zM1132.6 2103.2h7v7h-7zM1151.6 2110.1h7v7h-7zM1170.6 2102.5h7v7h-7zM1189.6 2107.8h7v7h-7zM1208.6 1961.2h7v7h-7zM1227.6 1896.6h7v7h-7zM1246.6 1914.5h7v7h-7zM1265.6 1936.8h7v7h-7zM1284.6 2025.4h7v7h-7zM1303.6 2025.4h7v7h-7zM1322.6 2025.4h7v7h-7zM1341.6 2025.4h7v7h-7zM1360.6 2087.5h7v7h-7zM1379.6 1919.0h7v7h-7zM1398.6 1778.7h7v7h-7zM1417.6 2087.5h7v7h-7zM1436.6 2087.5h7v7h-7zM1455.6 2124.6h7v7h-7zM1474.6 2087.5h7v7h-7zM1493.6 2087.5h7v7h-7zM1512.6 2087.5h7v7h-7zM1531.6 2124.6h7v7h-7zM1550.6 2087.5h7v7h-7zM1569.6 2087.5h7v7h-7zM1588.6 2152.7h7v7h-7zM1607.6 2100.5h7v7h-7zM1626.6 2117.2h7v7h-7zM1645.6 2085.0h7v7h-7z" fill="#ff0000"/>
<path d="M302.4 2005.3L321.4 2093.2L340.4 2112.3L359.4 2069.8L378.4 2145.0L397.4 2147.3L416.4 2134.2L435.4 2126.6L454.4 2008.8L473.4 2093.2L492.4 2093.2L511.4 2093.2L530.4 2093.2L549.4 2093.2L568.4 2093.2L587.4 2101.3L606.4 2093.2L625.4 2093.2L644.4 2093.2L663.4 2101.3L682.4 2108.9L701.4 2171.0L720.4 2119.7L739.4 2112.8L758.4 1976.6L777.4 2093.2L796.4 2093.2L815.4 2041.0L834.4 2106.1L853.4 2145.0L872.4 2148.0L891.4 2141.1L910.4 2078.5L929.4 2134.2L948.4 2093.2L967.4 2093.2L986.4 2093.2L1005.4 2093.2L1024.4 2093.2L1043.4 2053.7L1062.4 2093.2L1081.4 2093.2L1100.4 2093.2L1119.4 2053.7L1138.4 2108.2L1157.4 2105.4L1176.4 2093.2L1195.4 2105.4L1214.4 2053.7L1233.4 2093.2L1252.4 2093.2L1271.4 2036.4L1290.4 2097.8L1309.4 2097.8L1328.4 2089.3L1347.4 2086.3L1366.4 2093.2L1385.4 2093.2L1404.4 2093.2L1423.4 2093.2L1442.4 2093.2L1461.4 2093.2L1480.4 2093.2L1499.4 2093.2L1518.4 2093.2L1537.4 2093.2L1556.4 2093.2L1575.4 2093.2L1594.4 2098.1L1613.4 2093.2L1632.4 2105.7L1651.4 2093.2" stroke="#000" stroke-width="2.2" fill="none" stroke-linecap="butt" stroke-linejoin="miter" stroke-miterlimit="3"/>
<path d="M300.1 1998.6l4.5 4.5l-4.5 4.5l-4.5 -4.5zM319.1 2086.5l4.5 4.5l-4.5 4.5l-4.5 -4.5zM338.1 2105.6l4.5 4.5l-4.5 4.5l-4.5 -4.5zM357.1 2063.1l4.5 4.5l-4.5 4.5l-4.5 -4.5zM376.1 2138.3l4.5 4.5l-4.5 4.5l-4.5 -4.5zM395.1 2140.6l4.5 4.5l-4.5 4.5l-4.5 -4.5zM414.1 2127.5l4.5 4.5l-4.5 4.5l-4.5 -4.5zM433.1 2119.9l4.5 4.5l-4.5 4.5l-4.5 -4.5zM452.1 2002.1l4.5 4.5l-4.5 4.5l-4.5 -4.5zM471.1 2086.5l4.5 4.5l-4.5 4.5l-4.5 -4.5zM490.1 2086.5l4.5 4.5l-4.5 4.5l-4.5 -4.5zM509.1 2086.5l4.5 4.5l-4.5 4.5l-4.5 -4.5zM528.1 2086.5l4.5 4.5l-4.5 4.5l-4.5 -4.5zM547.1 2086.5l4.5 4.5l-4.5 4.5l-4.5 -4.5zM566.1 2086.5l4.5 4.5l-4.5 4.5l-4.5 -4.5zM585.1 2094.6l4.5 4.5l-4.5 4.5l-4.5 -4.5zM604.1 2086.5l4.5 4.5l-4.5 4.5l-4.5 -4.5zM623.1 2086.5l4.5 4.5l-4.5 4.5l-4.5 -4.5zM642.1 2086.5l4.5 4.5l-4.5 4.5l-4.5 -4.5zM661.1 2094.6l4.5 4.5l-4.5 4.5l-4.5 -4.5zM680.1 2102.2l4.5 4.5l-4.5 4.5l-4.5 -4.5zM699.1 2164.3l4.5 4.5l-4.5 4.5l-4.5 -4.5zM718.1 2113.0l4.5 4.5l-4.5 4.5l-4.5 -4.5zM737.1 2106.1l4.5 4.5l-4.5 4.5l-4.5 -4.5zM756.1 1969.9l4.5 4.5l-4.5 4.5l-4.5 -4.5zM775.1 2086.5l4.5 4.5l-4.5 4.5l-4.5 -4.5zM794.1 2086.5l4.5 4.5l-4.5 4.5l-4.5 -4.5zM813.1 2034.3l4.5 4.5l-4.5 4.5l-4.5 -4.5zM832.1 2099.4l4.5 4.5l-4.5 4.5l-4.5 -4.5zM851.1 2138.3l4.5 4.5l-4.5 4.5l-4.5 -4.5zM870.1 2141.3l4.5 4.5l-4.5 4.5l-4.5 -4.5zM889.1 2134.4l4.5 4.5l-4.5 4.5l-4.5 -4.5zM908.1 2071.8l4.5 4.5l-4.5 4.5l-4.5 -4.5zM927.1 2127.5l4.5 4.5l-4.5 4.5l-4.5 -4.5zM946.1 2086.5l4.5 4.5l-4.5 4.5l-4.5 -4.5zM965.1 2086.5l4.5 4.5l-4.5 4.5l-4.5 -4.5zM984.1 2086.5l4.5 4.5l-4.5 4.5l-4.5 -4.5zM1003.1 2086.5l4.5 4.5l-4.5 4.5l-4.5 -4.5zM1022.1 2086.5l4.5 4.5l-4.5 4.5l-4.5 -4.5zM1041.1 2047.0l4.5 4.5l-4.5 4.5l-4.5 -4.5zM1060.1 2086.5l4.5 4.5l-4.5 4.5l-4.5 -4.5zM1079.1 2086.5l4.5 4.5l-4.5 4.5l-4.5 -4.5zM1098.1 2086.5l4.5 4.5l-4.5 4.5l-4.5 -4.5zM1117.1 2047.0l4.5 4.5l-4.5 4.5l-4.5 -4.5zM1136.1 2101.5l4.5 4.5l-4.5 4.5l-4.5 -4.5zM1155.1 2098.7l4.5 4.5l-4.5 4.5l-4.5 -4.5zM1174.1 2086.5l4.5 4.5l-4.5 4.5l-4.5 -4.5zM1193.1 2098.7l4.5 4.5l-4.5 4.5l-4.5 -4.5zM1212.1 2047.0l4.5 4.5l-4.5 4.5l-4.5 -4.5zM1231.1 2086.5l4.5 4.5l-4.5 4.5l-4.5 -4.5zM1250.1 2086.5l4.5 4.5l-4.5 4.5l-4.5 -4.5zM1269.1 2029.7l4.5 4.5l-4.5 4.5l-4.5 -4.5zM1288.1 2091.1l4.5 4.5l-4.5 4.5l-4.5 -4.5zM1307.1 2091.1l4.5 4.5l-4.5 4.5l-4.5 -4.5zM1326.1 2082.6l4.5 4.5l-4.5 4.5l-4.5 -4.5zM1345.1 2079.6l4.5 4.5l-4.5 4.5l-4.5 -4.5zM1364.1 2086.5l4.5 4.5l-4.5 4.5l-4.5 -4.5zM1383.1 2086.5l4.5 4.5l-4.5 4.5l-4.5 -4.5zM1402.1 2086.5l4.5 4.5l-4.5 4.5l-4.5 -4.5zM1421.1 2086.5l4.5 4.5l-4.5 4.5l-4.5 -4.5zM1440.1 2086.5l4.5 4.5l-4.5 4.5l-4.5 -4.5zM1459.1 2086.5l4.5 4.5l-4.5 4.5l-4.5 -4.5zM1478.1 2086.5l4.5 4.5l-4.5 4.5l-4.5 -4.5zM1497.1 2086.5l4.5 4.5l-4.5 4.5l-4.5 -4.5zM1516.1 2086.5l4.5 4.5l-4.5 4.5l-4.5 -4.5zM1535.1 2086.5l4.5 4.5l-4.5 4.5l-4.5 -4.5zM1554.1 2086.5l4.5 4.5l-4.5 4.5l-4.5 -4.5zM1573.1 2086.5l4.5 4.5l-4.5 4.5l-4.5 -4.5zM1592.1 2091.4l4.5 4.5l-4.5 4.5l-4.5 -4.5zM1611.1 2086.5l4.5 4.5l-4.5 4.5l-4.5 -4.5zM1630.1 2099.0l4.5 4.5l-4.5 4.5l-4.5 -4.5zM1649.1 2086.5l4.5 4.5l-4.5 4.5l-4.5 -4.5z" fill="#000"/>
<text x="49.5" y="1663.5" font-size="54">(c)</text>
<text transform="translate(89.9,2014) rotate(-90) scale(0.95,1)" font-size="57" font-style="italic">K</text>
<text transform="translate(109.9,1977) rotate(-90) scale(0.89,1)" font-size="34">syn</text>
<text x="1731" y="2102.3" font-size="55" fill="#800000">1</text>
<rect x="1240.9" y="27.4" width="527.3" height="155.6" fill="#fff" stroke="#000" stroke-width="2.8"/>
<path d="M1244.5 61.8H1355.8" stroke="#ff0000" stroke-width="2.5"/>
<rect x="1296.45" y="55.5" width="7.4" height="7.5" fill="#ff0000"/>
<text transform="translate(1370,77.5) scale(0.93,1)" font-size="52" font-style="italic">A</text>
<text x="1401.5" y="94.5" font-size="30" textLength="60.5" lengthAdjust="spacingAndGlyphs">RKF</text>
<text x="1461.5" y="77.5" font-size="50" textLength="300.5" lengthAdjust="spacing">[NNetEn(D1)]</text>
<path d="M1244.5 135.9H1355.8" stroke="#000" stroke-width="2.5"/>
<rect x="1296.45" y="132.5" width="7.4" height="7.2" fill="#000"/>
<text transform="translate(1370,151.5) scale(0.93,1)" font-size="52" font-style="italic">A</text>
<text x="1401.5" y="168.5" font-size="30" textLength="60.5" lengthAdjust="spacingAndGlyphs">RKF</text>
<text x="1461.5" y="151.5" font-size="50" textLength="300.5" lengthAdjust="spacing">[NNetEn(D2)]</text>
<rect x="1015.4" y="775.8" width="748.0000000000001" height="232.70000000000005" fill="#fff" stroke="#000" stroke-width="2.8"/>
<path d="M1019 807.7H1130.6" stroke="#0000ff" stroke-width="2.5"/>
<text transform="translate(1144.5,826.2) scale(0.93,1)" font-size="52" font-style="italic">A</text>
<text x="1176" y="843.2" font-size="30" textLength="61.5" lengthAdjust="spacingAndGlyphs">RKF</text>
<text x="1239.5" y="826.2" font-size="50" textLength="519.0" lengthAdjust="spacing">[SampEn(m=2, r=0.2d)]</text>
<path d="M1019 884.0H1130.6" stroke="#000" stroke-width="2.5"/>
<rect x="1070.7" y="881.0" width="10.3" height="6" fill="#fff"/>
<rect x="1072.8" y="877.7" width="6" height="7.6" fill="#000"/>
<text transform="translate(1144.5,900.5) scale(0.93,1)" font-size="52" font-style="italic">A</text>
<text x="1176" y="917.5" font-size="30" textLength="61.5" lengthAdjust="spacingAndGlyphs">RKF</text>
<text x="1239.5" y="900.5" font-size="50" textLength="519.0" lengthAdjust="spacing">[NNetEn(D2), SampEn]</text>
<path d="M1019 958.0H1130.6" stroke="#ff0000" stroke-width="2.5"/>
<rect x="1070.7" y="955.0" width="10.3" height="6" fill="#fff"/>
<rect x="1072.8" y="951.7" width="6" height="7.6" fill="#ff0000"/>
<text transform="translate(1144.5,974.7) scale(0.93,1)" font-size="52" font-style="italic">A</text>
<text x="1176" y="991.7" font-size="30" textLength="61.5" lengthAdjust="spacingAndGlyphs">RKF</text>
<text x="1239.5" y="974.7" font-size="50" textLength="519.0" lengthAdjust="spacing">[NNetEn(D1), SampEn]</text>
<rect x="1020.5" y="1598.6" width="745.0" height="158.10000000000014" fill="#fff" stroke="#000" stroke-width="2.8"/>
<path d="M1024.2 1632.5H1135.1" stroke="#ff0000" stroke-width="2.5"/>
<rect x="1075.95" y="1626.2" width="7.4" height="7.5" fill="#ff0000"/>
<text transform="translate(1150.5,1649) scale(0.93,1)" font-size="52" font-style="italic">K</text>
<text x="1183.5" y="1666" font-size="29" textLength="46.0" lengthAdjust="spacingAndGlyphs">syn</text>
<text x="1228.5" y="1649" font-size="50" textLength="516.0" lengthAdjust="spacing">[NNetEn(D1), SampEn]</text>
<path d="M1024.2 1707H1135.1" stroke="#000" stroke-width="2.5"/>
<rect x="1078.15" y="1703" width="3" height="8" fill="#000"/>
<text transform="translate(1164,1723) scale(0.93,1)" font-size="52" font-style="italic">K</text>
<text x="1197.5" y="1740" font-size="29" textLength="46.0" lengthAdjust="spacingAndGlyphs">syn</text>
<text x="1241.5" y="1723" font-size="50" textLength="518.0" lengthAdjust="spacing">[NNetEn(D2), SampEn]</text>
</svg>
</body></html>
